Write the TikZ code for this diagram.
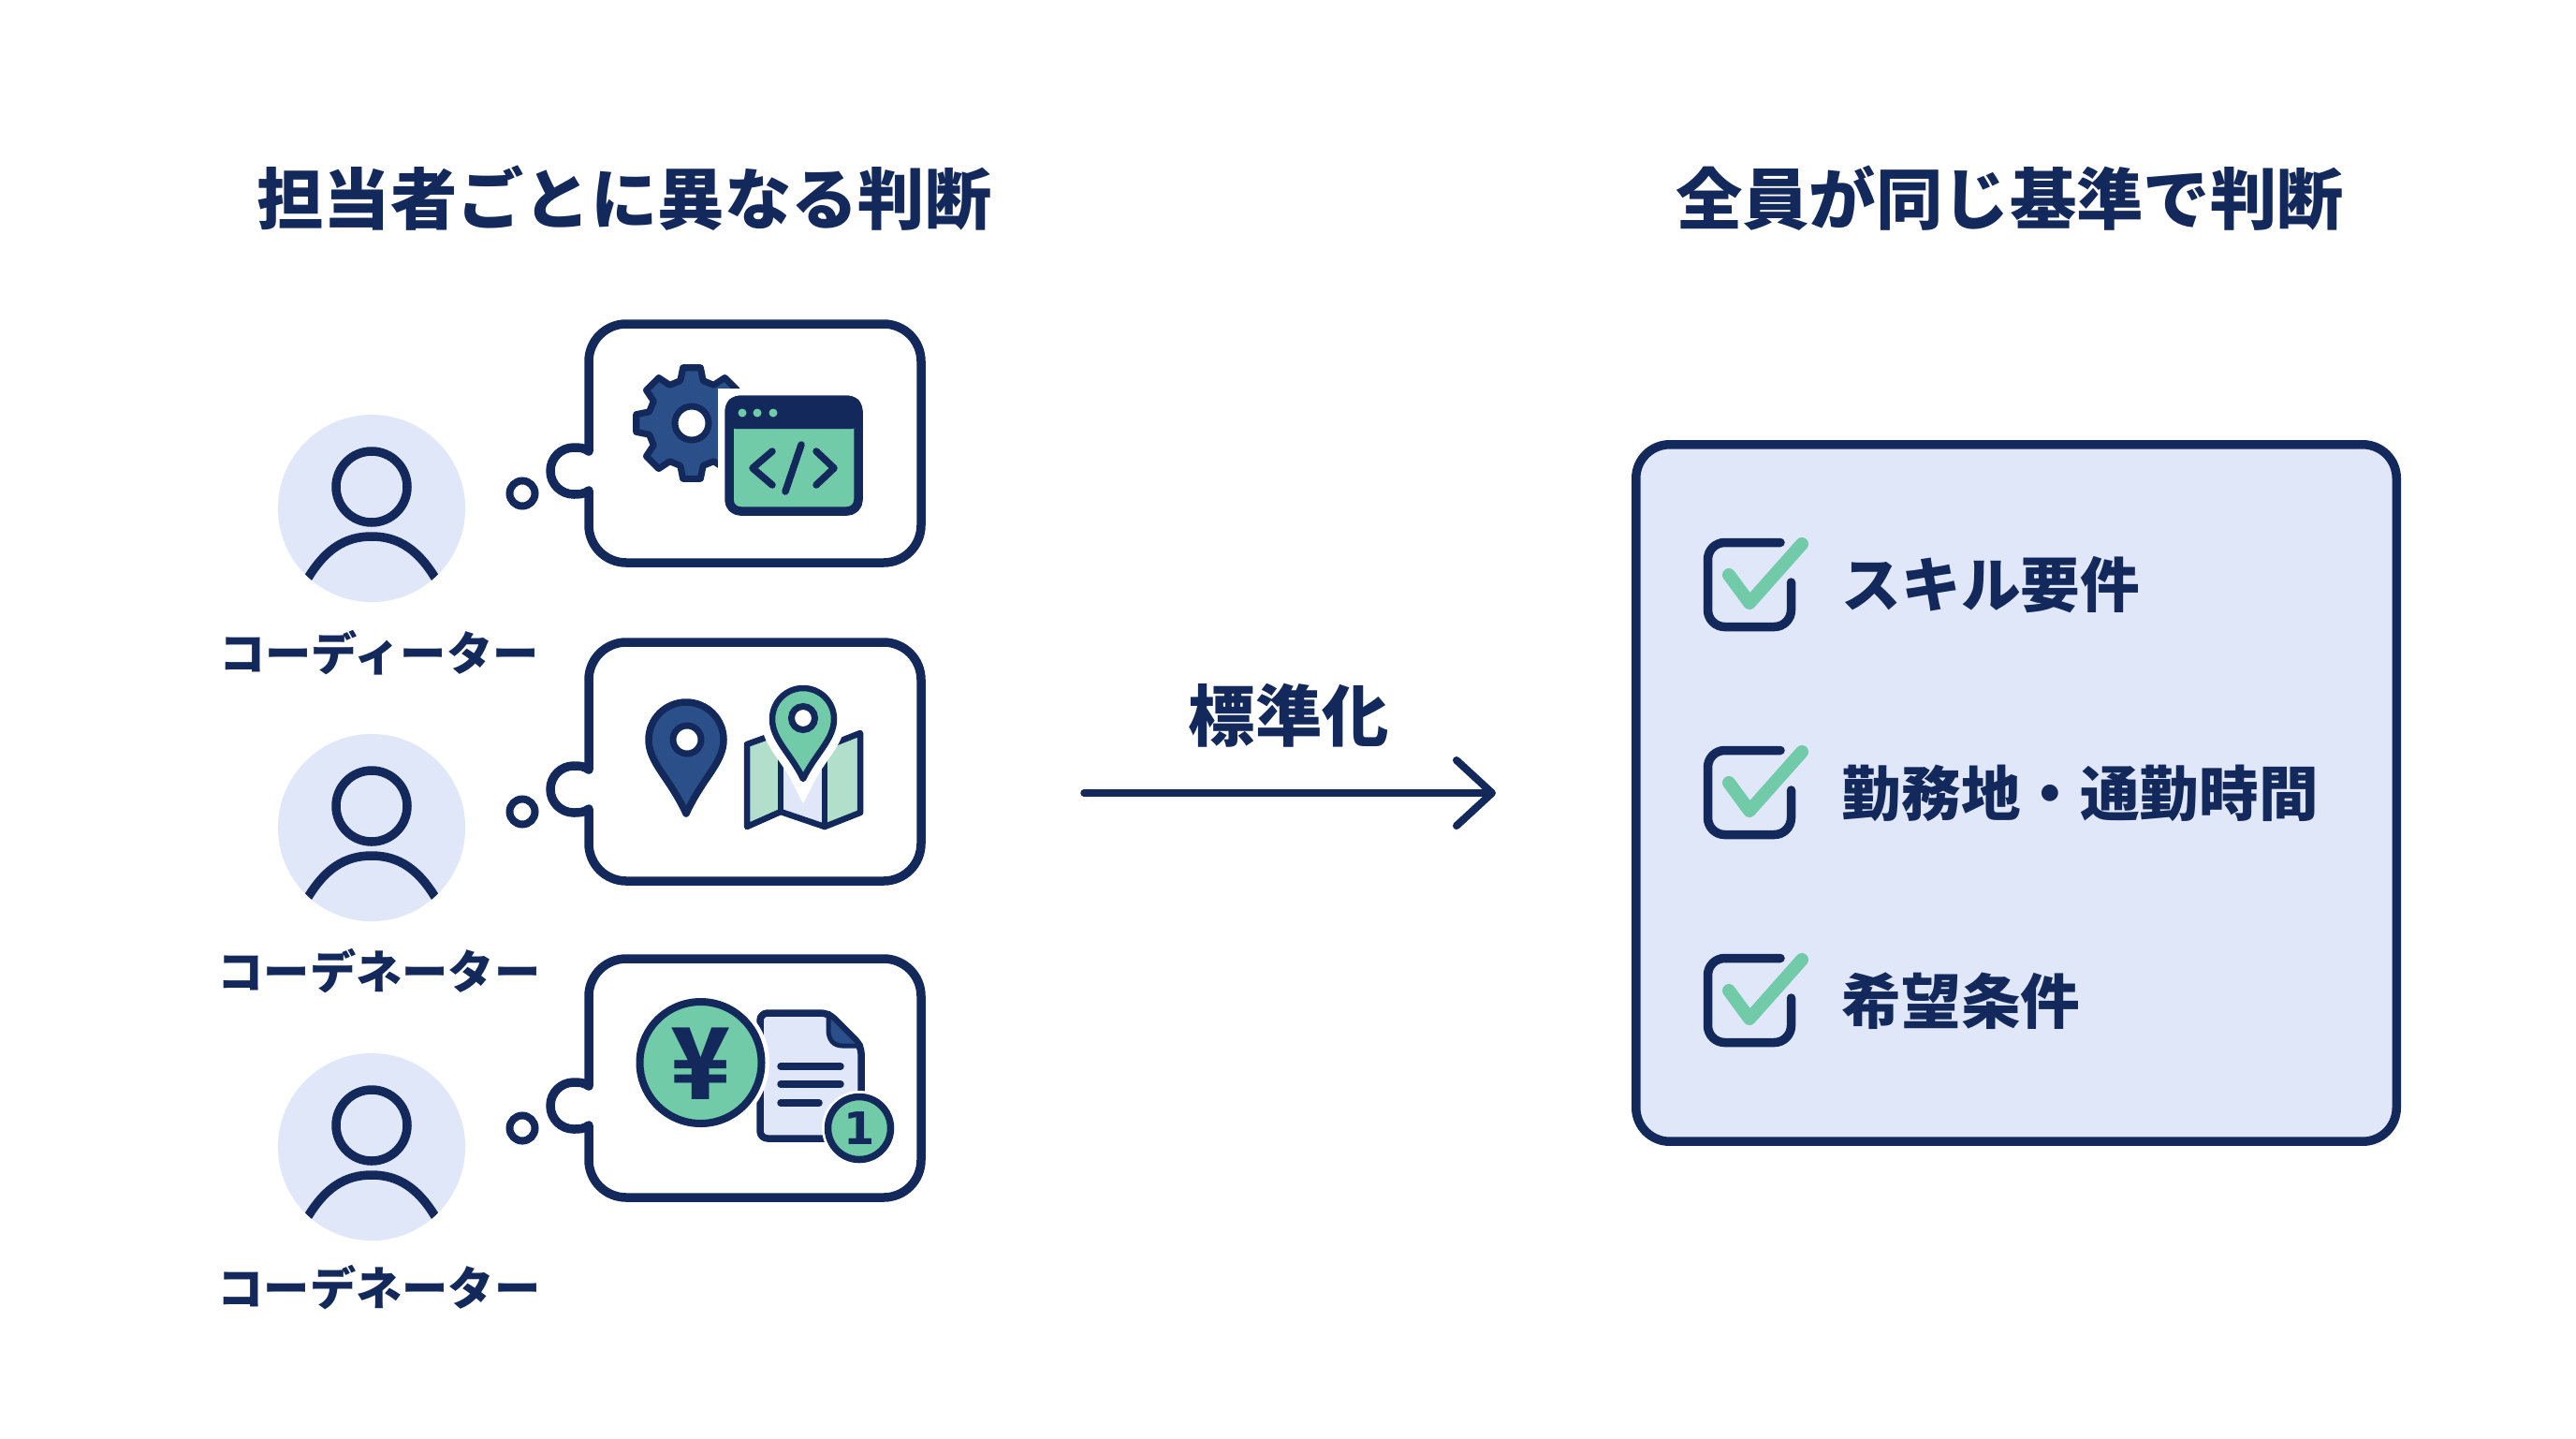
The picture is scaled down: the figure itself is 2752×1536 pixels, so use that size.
\documentclass[tikz,border=0pt]{standalone}
\usepackage{fontspec}
\usetikzlibrary{arrows.meta}
\setmainfont{Noto Sans CJK JP}
\newfontfamily\digitfont{DejaVu Sans}
\definecolor{navy}{HTML}{13295B}
\definecolor{pinblue}{HTML}{2B5089}
\definecolor{mint}{HTML}{72CBA8}
\definecolor{palemint}{HTML}{B2DFCC}
\definecolor{pale}{HTML}{E0E7F8}
\tikzset{x=0.01cm,y=-0.01cm,
  heading/.style={text=navy,font=\fontsize{20.3pt}{24pt}\selectfont\bfseries,inner sep=0pt},
  rolelabel/.style={text=navy,font=\fontsize{14pt}{16pt}\selectfont\bfseries,inner sep=0pt},
  itemlabel/.style={text=navy,font=\fontsize{18.1pt}{20pt}\selectfont\bfseries,inner sep=0pt,anchor=west},
  personbg/.style={circle,fill=pale,minimum size=2cm,inner sep=0pt},
  outline/.style={draw=navy,line width=0.095cm,line cap=round,line join=round},
  thoughtdot/.style={circle,draw=navy,fill=white,line width=0.08cm,minimum size=0.27cm,inner sep=0pt},
  bubblebox/.style={outline,fill=white},
  panelbox/.style={outline,fill=pale,rounded corners=0.36cm,minimum width=8.12cm,minimum height=7.44cm,inner sep=0pt},
  flowarrow/.style={draw=navy,line width=0.075cm,line cap=round,-{Straight Barb[length=0.38cm,width=0.7cm,line width=0.08cm,round]}},
  checkmark/.style={draw=mint,line width=0.14cm,line cap=round,line join=round},
  iconline/.style={draw=navy,line width=0.075cm,line cap=round,line join=round},
  halo/.style={preaction={draw=white,line width=#1}}}
\begin{document}
\begin{tikzpicture}
\useasboundingbox[fill=white] (0,0) rectangle (2752,1536);
\node[heading] (lefthead) at (667,212) {担当者ごとに異なる判断};
\node[heading] (righthead) at (2147,212) {全員が同じ基準で判断};

\foreach \row/\pdy/\bdy/\role in {1/0/0/コーディーター,2/341/340/コーデネーター,3/682/678/コーデネーター}{
  \begin{scope}[shift={(0,\pdy)}]
    \node[personbg] (person\row) at (397,543) {};
    \draw[outline] (397,520) circle[radius=38];
    \begin{scope}
      \clip (397,543) circle[radius=100];
      \draw[draw=navy,line width=0.095cm] (322,630) .. controls (345,585) and (370,573) .. (397,573) .. controls (424,573) and (449,585) .. (472,630);
    \end{scope}
  \end{scope}
  \begin{scope}[shift={(0,\bdy)}]
    \draw[bubblebox] (629,524) [rounded corners=0.4cm] -- (629,601) -- (984,601) -- (984,346) -- (629,346) [sharp corners] -- (629,482) .. controls (624,478) and (618,478) .. (613,478) arc[start angle=270,end angle=90,radius=25] .. controls (618,528) and (624,528) .. (629,524);
    \node[thoughtdot] (dot\row) at (558,527) {};
    \node[rolelabel] (role\row) at (405,697) {\role};
  \end{scope}
}

% gear and code window
\begin{scope}[shift={(739,452)}]
  \draw[outline,fill=pinblue,line width=0.07cm] (-9:60) \foreach \a in {0,45,...,315}{ -- (\a-9:60) -- (\a+9:60) -- (\a+15:47) -- (\a+30:47)} -- cycle;
  \draw[draw=navy,fill=white,line width=0.07cm] (0,0) circle[radius=18];
\end{scope}
\fill[white] (767,415) rectangle (929,558);
\draw[outline,fill=mint,rounded corners=0.12cm] (779,427) rectangle (917,546);
\fill[navy,rounded corners=0.1cm] (776,424) -- (920,424) -- (920,458) -- (776,458) -- cycle;
\foreach \dx in {793,809,826}{\fill[mint] (\dx,441) circle[radius=4.5];}
\draw[iconline] (825,482) -- (804,500) -- (825,518);
\draw[iconline] (856,475) -- (839,525);
\draw[iconline] (872,482) -- (891,500) -- (872,518);

% pin and folded map
\draw[iconline,fill=pinblue] (733,869) .. controls (715,830) and (693,815) .. (693,790) arc[start angle=180,end angle=360,radius=40] .. controls (773,815) and (751,830) .. (733,869) -- cycle;
\draw[draw=navy,fill=white,line width=0.07cm] (734,790) circle[radius=15];
\fill[palemint] (798,795) -- (834,782) -- (834,867) -- (798,883) -- cycle;
\fill[pale] (834,782) -- (881,798) -- (881,883) -- (834,867) -- cycle;
\fill[palemint] (881,798) -- (919,783) -- (919,868) -- (881,883) -- cycle;
\draw[iconline,line width=0.065cm] (798,795) -- (834,782) -- (881,798) -- (919,783) -- (919,868) -- (881,883) -- (834,867) -- (798,883) -- cycle;
\draw[iconline,line width=0.065cm] (834,782) -- (834,867) (881,798) -- (881,883);
\draw[iconline,fill=mint,line width=0.065cm,halo=0.24cm] (858,832) .. controls (845,805) and (825,790) .. (825,768) arc[start angle=180,end angle=360,radius=33] .. controls (891,790) and (871,805) .. (858,832) -- cycle;
\draw[draw=navy,fill=white,line width=0.07cm] (858,767) circle[radius=12.5];

% yen coin, document and badge
\draw[iconline,fill=pale,rounded corners=0.08cm] (812,1216) -- (812,1082) -- (885,1082) -- (920,1117) -- (920,1216) -- cycle;
\draw[iconline,fill=pinblue,line width=0.05cm] (885,1082) -- (920,1117) -- (900,1117) .. controls (890,1117) and (885,1110) .. (885,1100) -- cycle;
\draw[iconline] (834,1139) -- (898,1139) (834,1158) -- (898,1158) (834,1178) -- (875,1178);
\draw[iconline,fill=mint,line width=0.08cm,halo=0.17cm] (748.5,1135) circle[radius=65];
\node[text=navy,font=\fontsize{30pt}{34pt}\selectfont\bfseries,inner sep=0pt] (yen) at (748.5,1136) {¥};
\draw[iconline,fill=mint,halo=0.13cm] (918,1205) circle[radius=33.5];
\node[text=navy,font=\digitfont\fontsize{13.6pt}{16pt}\selectfont\bfseries,inner sep=0pt] (badge) at (918,1205) {1};

\coordinate (arrowstart) at (1158,847);
\coordinate (arrowend) at (1598,847);
\draw[flowarrow] (arrowstart) -- (arrowend);
\node[heading] (stdlabel) at (1377,764) {標準化};

\node[panelbox] (panel) at (2154,847) {};
\foreach \row/\dy/\item in {1/0/スキル要件,2/222/勤務地・通勤時間,3/444/希望条件}{
  \begin{scope}[shift={(0,\dy)}]
    \draw[outline] (1902,579.5) [rounded corners=0.18cm] -- (1824.5,579.5) -- (1824.5,669.5) -- (1913.5,669.5) [sharp corners] -- (1913.5,622);
    \draw[checkmark] (1847,614) -- (1869,644) -- (1925,581);
    \node[itemlabel] (item\row) at (1967,625) {\item};
  \end{scope}
}
\end{tikzpicture}
\end{document}
